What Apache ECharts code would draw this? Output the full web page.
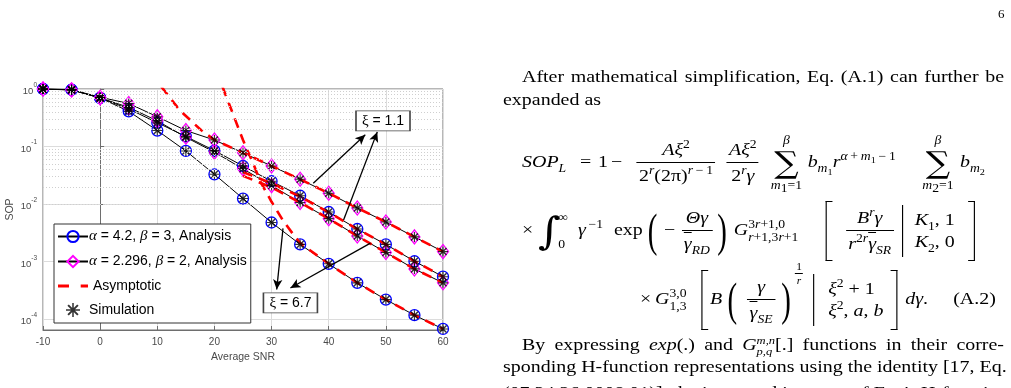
<!DOCTYPE html>
<html>
<head>
<meta charset="utf-8">
<script src="https://cdn.jsdelivr.net/npm/echarts@6/dist/echarts.min.js"></script>
<style>
body{margin:0;background:#fff;overflow:hidden;width:1011px;height:388px;position:relative}
#chart{position:absolute;left:0;top:0;width:1011px;height:388px}
#col{position:absolute;left:503px;top:0;width:440px;height:388px;transform:scaleX(1.14);transform-origin:0 0}
.t{position:absolute;font-family:'Liberation Serif','Times New Roman',serif;font-size:17.5px;line-height:21px;color:#000;white-space:nowrap}
.j{text-align:justify;text-align-last:justify;white-space:normal}
.row{position:absolute;font-family:'Liberation Serif','Times New Roman',serif;font-size:17.5px;line-height:70px;height:70px;white-space:nowrap;color:#000}
.c{display:inline-block;white-space:nowrap;vertical-align:baseline}
.cc{text-align:center}
.row sup,.row sub,.t sup,.t sub{font-size:12px;line-height:0}
.row sub sub,.row sup sub{font-size:9px}
.fr{display:inline-block;vertical-align:middle;text-align:center;line-height:1.2}
.fr .n{display:block;border-bottom:1px solid #000;padding:0 2px 2px}
.fr .d{display:block;padding:2px 2px 0}
.sum{display:inline-block;vertical-align:middle;text-align:center;line-height:1}
.sum .s{display:block;font-family:'DejaVu Serif',serif;font-size:30px;line-height:32px}
.sum .l{display:block;font-size:12px;line-height:13px}
.ss{display:inline-block;vertical-align:middle;line-height:1.05;font-size:12px;text-align:left}
.ss span{display:block}
.bk{display:inline-block;vertical-align:middle;width:5px;height:58px;border:1.3px solid #000}
.bkl{border-right:none}
.bkr{border-left:none}
.vb{display:inline-block;vertical-align:middle;height:52px;border-left:1.2px solid #000}
.bp{display:inline-block;vertical-align:middle;font-size:46px;line-height:50px;transform:scaleX(0.55);transform-origin:0 50%}
.mat{display:inline-block;vertical-align:middle;line-height:1.25;text-align:left}
.mat span{display:block}
.ig{display:inline-block;vertical-align:middle;font-family:'DejaVu Serif',serif;font-size:38px;line-height:50px;font-style:italic}
.ov{text-decoration:overline}
</style>
</head>
<body>
<div id="chart"></div>

<div class="t" style="left:998px;top:3px;font-size:13px">6</div>

<div id="col">
<div class="t j" style="left:16.7px;top:66px;width:422.8px">After mathematical simplification, Eq. (A.1) can further be</div>
<div class="t" style="left:0;top:89px">expanded as</div>

<div class="row" style="left:16.7px;top:126px"><span class="c" style="width:50.9px"><i>SOP</i><sub><i>L</i></sub></span><span class="c" style="width:15.8px">=</span><span class="c" style="width:11.4px">1</span><span class="c" style="width:21.1px">−</span><span class="c" style="width:78.9px;padding-left:1.5px;box-sizing:border-box"><span class="fr"><span class="n"><i>Aξ</i><sup>2</sup></span><span class="d">2<sup><i>r</i></sup>(2π)<sup><i>r</i>&thinsp;−&thinsp;1</sup></span></span></span><span class="c" style="width:36.8px;padding-left:1.5px;box-sizing:border-box"><span class="fr"><span class="n"><i>Aξ</i><sup>2</sup></span><span class="d">2<sup><i>r</i></sup><i>γ</i></span></span></span><span class="c cc" style="width:34.2px"><span class="sum"><span class="l"><i>β</i></span><span class="s">∑</span><span class="l"><i>m</i><sub>1</sub>=1</span></span></span><span class="c" style="width:96.5px;padding-left:1.5px;box-sizing:border-box"><i>b</i><sub><i>m</i><sub>1</sub></sub><i>r</i><sup><i>α</i>&thinsp;+&thinsp;<i>m</i><sub>1</sub>&thinsp;−&thinsp;1</sup></span><span class="c cc" style="width:38.6px"><span class="sum"><span class="l"><i>β</i></span><span class="s">∑</span><span class="l"><i>m</i><sub>2</sub>=1</span></span></span><span class="c"><i>b</i><sub><i>m</i><sub>2</sub></sub></span></div>

<div class="row" style="left:16.7px;top:194px"><span class="c" style="width:14px">×</span><span class="c" style="width:35.1px"><span class="ig">∫</span><span class="ss" style="margin-left:-2px"><span>∞</span><span style="margin-top:14px">0</span></span></span><span class="c" style="width:31.6px"><i>γ</i><sup>&thinsp;−1</sup></span><span class="c" style="width:29.8px">exp</span><span class="c" style="width:14px"><span class="bp">(</span></span><span class="c" style="width:10.5px">−</span><span class="c cc" style="width:36.8px"><span class="fr"><span class="n"><i>Θγ</i></span><span class="d"><span class="ov"><i>γ</i></span><sub><i>RD</i></sub></span></span></span><span class="c" style="width:14px"><span class="bp">)</span></span><span class="c" style="width:80.7px"><i>G</i><span class="ss"><span>3<i>r</i>+1,0</span><span><i>r</i>+1,3<i>r</i>+1</span></span></span><span class="c" style="width:10.5px"><span class="bk bkl"></span></span><span class="c cc" style="width:56.1px"><span class="fr"><span class="n"><i>B</i><sup><i>r</i></sup><i>γ</i></span><span class="d"><i>r</i><sup>2<i>r</i></sup><span class="ov"><i>γ</i></span><sub><i>SR</i></sub></span></span></span><span class="c" style="width:11.4px"><span class="vb"></span></span><span class="c" style="width:46.5px"><span class="mat"><span><i>K</i><sub>1</sub>, 1</span><span><i>K</i><sub>2</sub>, 0</span></span></span><span class="c"><span class="bk bkr"></span></span></div>

<div class="row" style="left:120.2px;top:261px"><span class="c" style="width:13.2px">×</span><span class="c" style="width:40.4px"><i>G</i><span class="ss"><span>3,0</span><span>1,3</span></span></span><span class="c" style="width:7.9px"><span class="bk bkl"></span></span><span class="c" style="width:15.8px"><i>B</i></span><span class="c" style="width:11.4px"><span class="bp">(</span></span><span class="c cc" style="width:35.1px"><span class="fr"><span class="n"><i>γ</i></span><span class="d"><span class="ov"><i>γ</i></span><sub><i>SE</i></sub></span></span></span><span class="c" style="width:12.3px"><span class="bp">)</span></span><span class="c" style="width:15.8px"><span class="fr" style="font-size:10px;line-height:1.1;vertical-align:20px"><span class="n" style="padding:0 1px 1px">1</span><span class="d" style="padding:1px 1px 0"><i>r</i></span></span></span><span class="c" style="width:13.2px"><span class="vb"></span></span><span class="c" style="width:54.4px"><span class="mat"><span><i>ξ</i><sup>2</sup> + 1</span><span><i>ξ</i><sup>2</sup>, <i>a</i>, <i>b</i></span></span></span><span class="c" style="width:13.2px"><span class="bk bkr"></span></span><span class="c" style="width:42.1px"><i>dγ</i>.</span><span class="c">(A.2)</span></div>

<div class="t j" style="left:16.7px;top:334px;width:422.8px">By expressing <i>exp</i>(.) and <i>G</i><span class="ss" style="font-size:11px;line-height:1"><span><i>m,n</i></span><span><i>p,q</i></span></span>[.] functions in their corre-</div>
<div class="t" style="left:0;top:356px">sponding H-function representations using the identity [17, Eq.</div>
<div class="t" style="left:0;top:382px">(07.34.26.0008.01)], the integrand in terms of Fox's H-function</div>
</div>

<script>
// ---------------- data ----------------
const snr = [-10, -5, 0, 5, 10, 15, 20, 25, 30, 35, 40, 45, 50, 55, 60];
// alpha = 4.2, beta = 3
const sopA42Xi11 = [1.0, 0.97, 0.70, 0.45, 0.26, 0.15, 0.085, 0.046, 0.025, 0.014, 0.0073, 0.0037, 0.0020, 0.00102, 0.00055];
const sopA42Xi67 = [1.0, 0.97, 0.70, 0.41, 0.19, 0.084, 0.033, 0.0125, 0.0048, 0.0020, 0.00092, 0.00043, 0.00022, 0.000118, 0.000068];
// alpha = 2.296, beta = 2
const sopA2Xi11 = [1.0, 0.97, 0.72, 0.56, 0.33, 0.19, 0.13, 0.078, 0.046, 0.027, 0.0155, 0.0086, 0.0049, 0.0027, 0.0015];
const sopA2Xi67 = [1.0, 0.96, 0.70, 0.48, 0.28, 0.145, 0.080, 0.041, 0.021, 0.0107, 0.0056, 0.0028, 0.00145, 0.00075, 0.00043];
// simulation points (coincide with the analysis)
const simA42Xi11 = [1.0, 0.97, 0.70, 0.45, 0.26, 0.15, 0.085, 0.046, 0.025, 0.014, 0.0073, 0.0037, 0.0020, 0.00102, 0.00055];
const simA42Xi67 = [1.0, 0.97, 0.70, 0.41, 0.19, 0.084, 0.033, 0.0125, 0.0048, 0.0020, 0.00092, 0.00043, 0.00022, 0.000118, 0.000068];
const simA2Xi11 = [1.0, 0.97, 0.72, 0.56, 0.33, 0.19, 0.13, 0.078, 0.046, 0.027, 0.0155, 0.0086, 0.0049, 0.0027, 0.0015];
const simA2Xi67 = [1.0, 0.96, 0.70, 0.48, 0.28, 0.145, 0.080, 0.041, 0.021, 0.0107, 0.0056, 0.0028, 0.00145, 0.00075, 0.00043];
// asymptotic curves
const asymA2Xi11X = [10.7, 14, 17.5, 20, 25, 30, 35, 40, 45, 50, 55, 60];
const asymA2Xi11Y = [1.1, 0.42, 0.20, 0.13, 0.078, 0.046, 0.027, 0.0155, 0.0086, 0.0049, 0.0027, 0.0015];
const asymA42Xi67X = [21.4, 25, 27, 28, 30, 32, 34, 35, 40, 45, 50, 55, 60];
const asymA42Xi67Y = [1.1, 0.13, 0.045, 0.025, 0.011, 0.0052, 0.0028, 0.0021, 0.00092, 0.00043, 0.00022, 0.000118, 0.000068];
const asymA42Xi11X = [25, 30, 35, 40, 45, 50, 55, 60];
const asymA42Xi11Y = [0.036, 0.023, 0.0135, 0.0072, 0.0037, 0.0020, 0.00102, 0.00055];
const asymA2Xi67X = [25, 30, 35, 40, 45, 50, 55, 60];
const asymA2Xi67Y = [0.031, 0.0195, 0.0107, 0.0056, 0.0028, 0.00145, 0.00075, 0.00043];
// axis
const xTicks = [-10, 0, 10, 20, 30, 40, 50, 60];
const yMin = 6.52e-5, yMax = 1;
// annotations (data coordinates)
const arrowStarts = [[37.3, 0.023], [42.6, 0.0053], [32.0, 0.0038], [47.3, 0.0021]];
const arrowEnds = [[46.4, 0.16], [48.5, 0.18], [30.9, 0.00033], [33.3, 0.00035]];
const boxLabels = ['1.1', '6.7'];
const boxAt = [[49.5, 0.28], [33.3, 0.000193]];

// ---------------- chart ----------------
const FONT = 'Liberation Sans, Arial, sans-serif';
const AX = '#6e6e6e';
const TXT = '#4a4a4a';
const ASTERISK = 'path://M-1.1,-10 L1.1,-10 L1.1,10 L-1.1,10 Z M-10,-1.1 L10,-1.1 L10,1.1 L-10,1.1 Z M6.0,8.0 L-8.0,-6.0 L-6.0,-8.0 L8.0,6.0 Z M-8.0,6.0 L6.0,-8.0 L8.0,-6.0 L-6.0,8.0 Z';
const DASH_ICON = 'path://M0,0 L11,0 L11,3 L0,3 Z M22.7,0 L30,0 L30,3 L22.7,3 Z';

const pairs = (xs, ys) => xs.map((x, i) => [x, ys[i]]);

function analysis(name, ys, symbol, size, color) {
  return {
    name, type: 'line', data: pairs(snr, ys), symbol, symbolSize: size, showSymbol: true,
    lineStyle: { color: '#000', width: 1 },
    itemStyle: { color: 'rgba(255,255,255,0)', borderColor: color, borderWidth: 1.3 },
    z: 2, silent: true, animation: false
  };
}
function asym(xs, ys) {
  return {
    name: 'Asymptotic', type: 'line', data: pairs(xs, ys), symbol: 'none', showSymbol: false,
    lineStyle: { color: '#ff0000', width: 2.6, type: [10, 7] },
    itemStyle: { color: '#ff0000' }, z: 3, silent: true, animation: false
  };
}
function sim(ys) {
  return {
    name: 'Simulation', type: 'scatter', data: pairs(snr, ys), symbol: ASTERISK, symbolSize: 10,
    itemStyle: { color: '#000' }, z: 4, silent: true, animation: false
  };
}

const minorGrid = [];
for (let e = -5; e < 0; e++) {
  for (let k = 2; k <= 9; k++) {
    const v = k * Math.pow(10, e);
    if (v > yMin && v < yMax) minorGrid.push({ yAxis: v });
  }
}

const legendNames = {
  A42: '{g|α} = 4.2, {g|β} = 3, Analysis',
  A2: '{g|α} = 2.296, {g|β} = 2, Analysis',
  Asymptotic: ' Asymptotic',
  Simulation: 'Simulation'
};

const option = {
  animation: false,
  backgroundColor: 'transparent',
  grid: { left: 43, top: 89, width: 400, height: 241, show: true, borderColor: AX, borderWidth: 1 },
  xAxis: {
    type: 'value', min: xTicks[0], max: xTicks[xTicks.length - 1], interval: 10,
    name: 'Average SNR', nameLocation: 'middle', nameGap: 21,
    nameTextStyle: { fontSize: 10.5, color: TXT, fontFamily: FONT },
    axisLine: { show: true, lineStyle: { color: AX } },
    axisTick: { show: true, inside: true, length: 4, lineStyle: { color: AX } },
    axisLabel: { fontSize: 10, color: TXT, fontFamily: FONT, margin: 7 },
    splitLine: { show: true, lineStyle: { color: '#dcdcdc', width: 1 } }
  },
  yAxis: {
    type: 'log', logBase: 10, min: yMin, max: yMax,
    name: 'SOP', nameLocation: 'middle', nameRotate: 90, nameGap: 27,
    nameTextStyle: { fontSize: 10.5, color: TXT, fontFamily: FONT },
    axisLine: { show: true, lineStyle: { color: AX } },
    axisTick: { show: true, inside: true, length: 4, lineStyle: { color: AX } },
    axisLabel: {
      showMinLabel: false, margin: 6,
      formatter: v => '{b|10}{s|' + Math.round(Math.log10(v)) + '}',
      rich: {
        b: { fontSize: 9.5, color: TXT, fontFamily: FONT, lineHeight: 15, verticalAlign: 'bottom' },
        s: { fontSize: 6.5, color: TXT, fontFamily: FONT, verticalAlign: 'top' }
      }
    },
    splitLine: { show: true, lineStyle: { color: '#dcdcdc', width: 1 } }
  },
  legend: {
    orient: 'vertical', left: 54, top: 224, itemWidth: 30, itemHeight: 14, itemGap: 10,
    padding: [5, 4, 6, 3], backgroundColor: '#fff', borderColor: '#333', borderWidth: 1,
    selectedMode: false,
    data: [{ name: 'A42' }, { name: 'A2' }, { name: 'Asymptotic', icon: DASH_ICON }, { name: 'Simulation' }],
    formatter: n => legendNames[n],
    textStyle: {
      fontSize: 14, lineHeight: 14, color: '#000', fontFamily: FONT, padding: [0, 0, 0, -4],
      rich: { g: { fontSize: 15, lineHeight: 14, fontFamily: 'Liberation Serif, serif', fontStyle: 'italic', color: '#000' } }
    }
  },
  series: [
    analysis('A42', sopA42Xi11, 'circle', 11, '#0000ff'),
    analysis('A42', sopA42Xi67, 'circle', 11, '#0000ff'),
    analysis('A2', sopA2Xi11, 'diamond', [11, 14], '#ff00ff'),
    analysis('A2', sopA2Xi67, 'diamond', [11, 14], '#ff00ff'),
    asym(asymA2Xi11X, asymA2Xi11Y),
    asym(asymA42Xi11X, asymA42Xi11Y),
    asym(asymA2Xi67X, asymA2Xi67Y),
    asym(asymA42Xi67X, asymA42Xi67Y),
    sim(simA42Xi11), sim(simA42Xi67), sim(simA2Xi11), sim(simA2Xi67),
    {
      name: 'minorGrid', type: 'line', data: [], silent: true, z: 1,
      markLine: {
        silent: true, symbol: ['none', 'none'], label: { show: false },
        lineStyle: { color: '#cfcfcf', width: 1, type: [1, 2] },
        data: minorGrid, animation: false
      }
    },
    {
      name: 'annot', type: 'line', data: [], silent: true, z: 5,
      markLine: {
        silent: true, symbol: ['none', 'arrow'], symbolSize: [7, 10], label: { show: false },
        lineStyle: { color: '#000', width: 1.3, type: 'solid' },
        emphasis: { disabled: true },
        data: arrowStarts.map((s, i) => [{ coord: s }, { coord: arrowEnds[i] }]),
        animation: false
      },
      markPoint: {
        silent: true, symbol: 'rect', symbolSize: [54, 20],
        itemStyle: { color: '#fff', borderColor: '#444', borderWidth: 1 },
        label: {
          show: true, position: 'inside', color: '#000', fontSize: 14, fontFamily: FONT,
          formatter: p => '{g|ξ} = ' + p.name,
          rich: { g: { fontSize: 15, fontFamily: 'Liberation Serif, serif', color: '#000' } }
        },
        data: boxLabels.map((t, i) => ({ name: t, coord: boxAt[i] })),
        animation: false
      }
    }
  ]
};

const chart = echarts.init(document.getElementById('chart'), null, { renderer: 'canvas' });
chart.setOption(option);
</script>
</body>
</html>
